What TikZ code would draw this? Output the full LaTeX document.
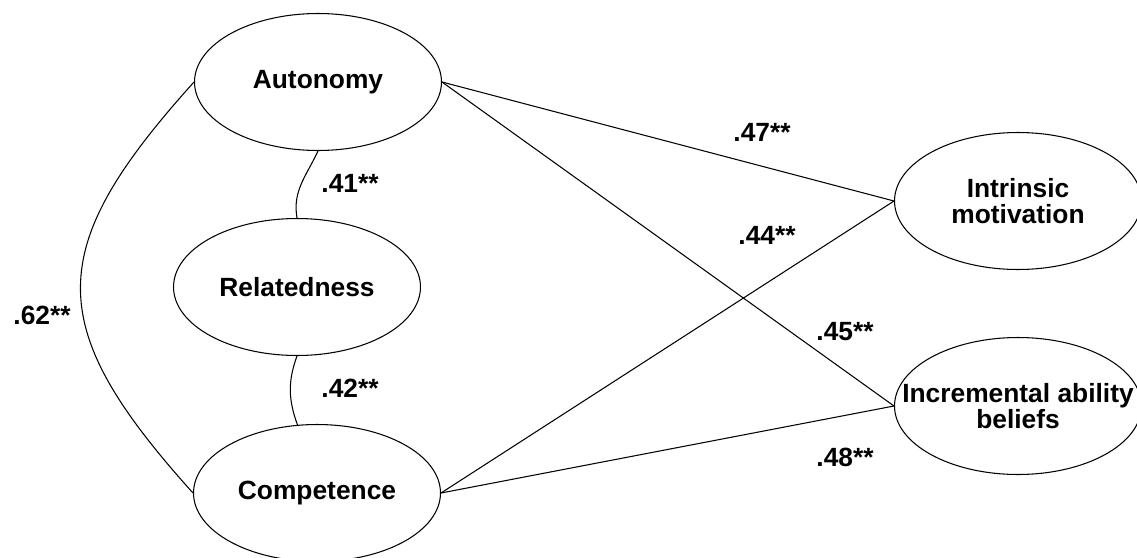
\documentclass[tikz,border=0pt]{standalone}
\usepackage{fontspec}
\setmainfont{Liberation Sans}
\usetikzlibrary{shapes.geometric}

\tikzset{
  latent/.style={ellipse, draw, line width=0.6pt, minimum width=4.94cm, minimum height=2.74cm, inner sep=0pt},
  coef/.style={inner sep=0pt},
}

\begin{document}
\begin{tikzpicture}[x=0.02cm, y=-0.02cm, font=\bfseries\fontsize{15}{14.5}\selectfont, line width=0.6pt]
        \useasboundingbox (0,0) rectangle (1137,558);
        \node[latent] (aut) at (318,82) {Autonomy};
        \node[latent] (rel) at (297,287) {Relatedness};
        \node[latent] (com) at (317,493) {Competence};
        \node[latent] (intr) at (1018,201) {};
        \node[align=center] (intrtext) at (intr) {Intrinsic\\motivation};
        \node[latent] (incr) at (1018,406) {};
        \node[align=center] (incrtext) at (incr) {Incremental ability\\beliefs};
        % correlations among the needs
        \draw (aut.south) to[out=245, in=100] (rel.north);
        \draw (rel.south) to[out=250, in=110] (com.106);
        \draw (aut.west) to[out=228, in=132, looseness=1.4] (com.west);
        % paths to outcomes
        \draw (aut.east) -- (intr.west);
        \draw (aut.east) -- (incr.west);
        \draw (com.east) -- (intr.west);
        \draw (com.east) -- (incr.west);
        % coefficients
        \node[coef] (c41) at (350,183) {.41**};
        \node[coef] (c42) at (350,388) {.42**};
        \node[coef] (c62) at (42,315) {.62**};
        \node[coef] (c47) at (762,132) {.47**};
        \node[coef] (c44) at (767,235) {.44**};
        \node[coef] (c45) at (845,332) {.45**};
        \node[coef] (c48) at (845,457) {.48**};
    \end{tikzpicture}
\end{document}
